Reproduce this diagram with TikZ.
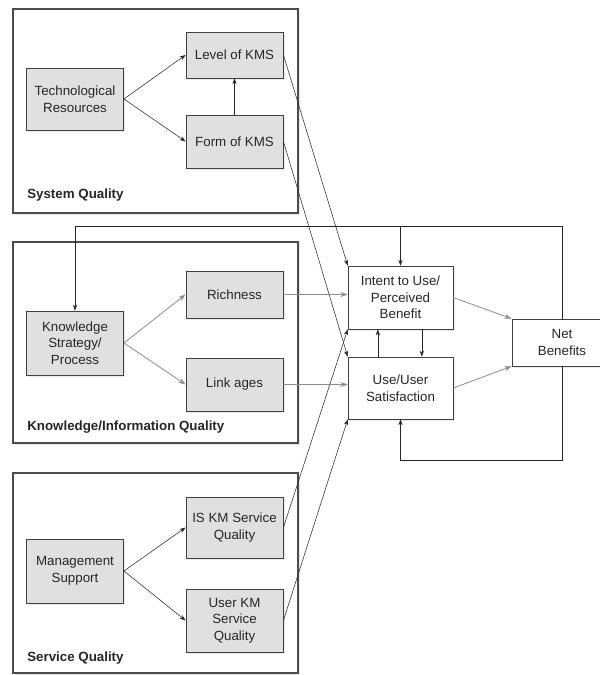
\documentclass[tikz,border=0pt]{standalone}
\usepackage{fontspec}
\setmainfont{Liberation Sans}
\usetikzlibrary{positioning,shadows,arrows.meta}

\tikzstyle{arrow} = [thin,->,>={Stealth[length=4.5pt,width=3.2pt]},draw=black!85]
\tikzstyle{grayarrow} = [semithick,->,>={Stealth[length=5.5pt,width=3.8pt]},draw=black!45]
\tikzstyle{group} = [
        rectangle,
        draw=black!70,
        line width=0.8pt,
        fill=white,
        minimum width=213.75pt,
        drop shadow={shadow xshift=1.6pt,shadow yshift=-1.6pt,fill=black!18}
    ]
\tikzstyle{factor} = [
        rectangle,
        minimum width=73pt,
        text centered,
        align=center,
        draw=black!75,
        fill=black!12,
        text=black!85,
        font=\fontsize{10}{12.5}\selectfont,
        drop shadow={shadow xshift=1.2pt,shadow yshift=-1.2pt,fill=black!15}
    ]
\tikzstyle{outcome} = [factor, fill=white, minimum width=78.75pt]
\tikzstyle{grouplabel} = [
        anchor=west,
        inner sep=0pt,
        text=black!85,
        font=\bfseries\fontsize{10}{12}\selectfont
    ]

\begin{document}
\begin{tikzpicture}[x=0.75pt,y=-0.75pt]
        \useasboundingbox (0,0) rectangle (600,675);

        % quality groups
        \node (system) [group, minimum height=153pt] at (155.5,111) {};
        \node (knowinfo) [group, minimum height=150.75pt] at (155.5,342.5) {};
        \node (service) [group, minimum height=150pt] at (155.5,573) {};

        \node (syslabel) [grouplabel] at (27,195) {System Quality};
        \node (kiqlabel) [grouplabel] at (27,427) {Knowledge/Information Quality};
        \node (servlabel) [grouplabel] at (27,658) {Service Quality};

        % system quality
        \node (tech) [factor, minimum height=46.5pt] at (75,99) {Technological\\Resources};
        \node (level) [factor, minimum height=34.5pt] at (234.5,55) {Level of KMS};
        \node (form) [factor, minimum height=39.75pt] at (234.5,141.5) {Form of KMS};

        % knowledge/information quality
        \node (ks) [factor, minimum height=48pt] at (75,343) {Knowledge\\Strategy/\\Process};
        \node (richness) [factor, minimum height=35.25pt] at (234.5,294.5) {Richness};
        \node (linkages) [factor, minimum height=39.75pt] at (234.5,384.5) {Link ages};

        % service quality
        \node (mgmt) [factor, minimum height=48pt] at (75,571) {Management\\Support};
        \node (iskm) [factor, minimum height=45.75pt] at (234.5,527.5) {IS KM Service\\Quality};
        \node (userkm) [factor, minimum height=47.25pt] at (234.5,620.5) {User KM\\Service\\Quality};

        % outcomes
        \node (intent) [outcome, minimum height=47.25pt] at (400.5,297.5) {Intent to Use/\\Perceived\\Benefit};
        \node (use) [outcome, minimum height=46.5pt] at (400.5,388) {Use/User\\Satisfaction};
        \node (net) [outcome, minimum width=75pt, minimum height=35.25pt] at (562,342.5) {Net\\Benefits};

        \coordinate (looptop) at (0,226);
        \coordinate (loopbottom) at (0,460);

        \draw [arrow] (tech.east) -- (level.west);
        \draw [arrow] (tech.east) -- (form.west);
        \draw [arrow] (form.north) -- (level.south);

        \draw [grayarrow] (ks.east) -- (richness.west);
        \draw [grayarrow] (ks.east) -- (linkages.west);

        \draw [arrow] (mgmt.east) -- (iskm.west);
        \draw [arrow] (mgmt.east) -- (userkm.west);

        \draw [arrow] (level.east) -- (intent.north west);
        \draw [arrow] (form.east) -- (use.north west);
        \draw [arrow] (iskm.east) -- (intent.south west);
        \draw [arrow] (userkm.east) -- (use.south west);

        \draw [grayarrow] (richness.east) -- (richness.east -| intent.west);
        \draw [grayarrow] (linkages.east) -- (linkages.east -| use.west);

        \draw [arrow] ([xshift=16pt]intent.south) -- ([xshift=16pt]use.north);
        \draw [arrow] ([xshift=-17pt]use.north) -- ([xshift=-17pt]intent.south);

        \draw [grayarrow] (intent.east) -- (net.north west);
        \draw [grayarrow] (use.east) -- (net.south west);

        % feedback loops
        \draw [arrow] (net.north) -- (net.north |- looptop) -| (ks.north);
        \draw [arrow] (intent.north |- looptop) -- (intent.north);
        \draw [arrow] (net.south) -- (net.south |- loopbottom) -| (use.south);

    \end{tikzpicture}
\end{document}
